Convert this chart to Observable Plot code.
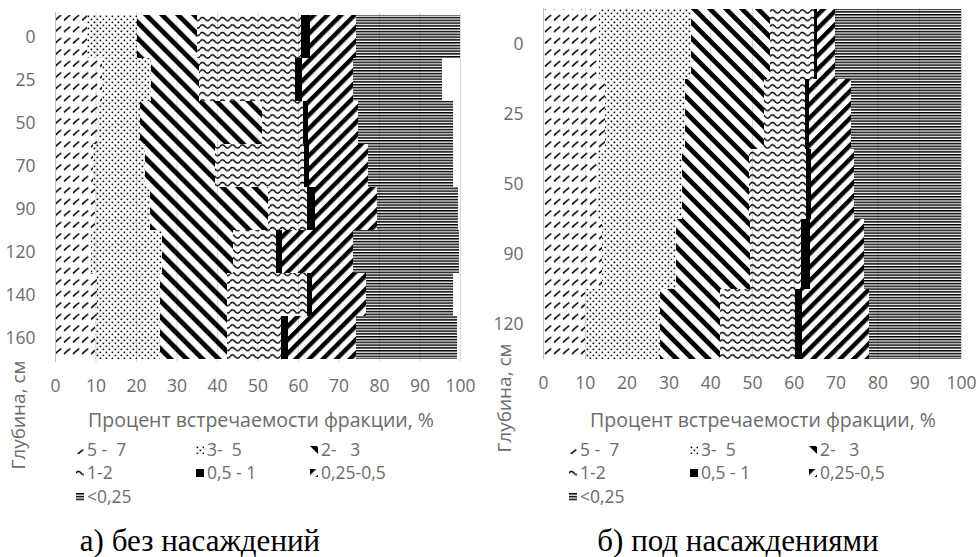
<!DOCTYPE html>
<html><head><meta charset="utf-8">
<script src="https://cdn.jsdelivr.net/npm/d3@7"></script>
<script src="https://cdn.jsdelivr.net/npm/@observablehq/plot@0.6"></script>
<style>
body{margin:0;background:#fff;}
#root{position:relative;width:979px;height:557px;overflow:hidden;font-family:"Open Sans",sans-serif;color:#6b6b6b;}
.t{position:absolute;white-space:pre;line-height:1;}
.panel{position:absolute;top:0;}
.lg{position:absolute;white-space:pre;font-size:17.5px;line-height:1;display:flex;align-items:center;}
.lg svg{margin-right:3px;}
.cap{position:absolute;font-family:"Liberation Serif","Times New Roman",serif;color:#000;font-size:31px;white-space:pre;line-height:1;}
</style></head><body><div id="root"></div>
<script>
// ---- data ----
const fractions = ["5 -  7", "3-  5", "2-   3", "1-2", "0,5 - 1", "0,25-0,5", "<0,25"];
const xTicks = [0, 10, 20, 30, 40, 50, 60, 70, 80, 90, 100];

// panel а) без насаждений
const depthsA = ["0", "25", "50", "70", "90", "120", "140", "160"];
const f57A   = [8.0, 11.5, 10.5, 9.4, 9.9, 9.0, 10.3, 9.9];
const f35A   = [12.3, 12.3, 10.5, 12.8, 13.6, 17.3, 15.6, 16.0];
const f23A   = [14.7, 11.8, 30.0, 17.3, 29.1, 17.7, 16.5, 16.5];
const f12A   = [25.7, 23.7, 10.3, 22.0, 9.5, 10.6, 19.7, 13.4];
const f051A  = [2.3, 1.6, 1.2, 1.2, 2.1, 1.4, 1.3, 1.8];
const f0205A = [11.3, 12.6, 12.3, 14.6, 15.2, 17.5, 13.4, 16.7];
const f025A  = [25.7, 22.0, 23.5, 21.0, 20.2, 26.3, 21.5, 25.0];

// panel б) под насаждениями
const depthsB = ["0", "25", "50", "90", "120"];
const f57B   = [13.3, 14.9, 12.9, 14.1, 10.1];
const f35B   = [22.0, 19.1, 20.4, 17.6, 18.0];
const f23B   = [19.1, 18.8, 15.9, 17.9, 14.3];
const f12B   = [10.4, 9.9, 13.6, 12.2, 18.0];
const f051B  = [0.8, 0.9, 1.2, 2.0, 1.6];
const f0205B = [4.3, 10.0, 10.4, 13.0, 16.0];
const f025B  = [30.1, 26.4, 25.6, 23.2, 22.0];

const fills = ["url(#p57)", "url(#p35)", "url(#p23)", "url(#p12)", "url(#p051)", "url(#p0205)", "url(#p025)"];

// ---- pattern defs ----
const root = document.getElementById("root");
const defsSvg = `<svg width="0" height="0" style="position:absolute;left:0;top:0"><defs>
<pattern id="p57" patternUnits="userSpaceOnUse" width="9" height="11.5">
  <path d="M1.5,8.5 Q3,6.8 6.8,4" fill="none" stroke="#000" stroke-width="1.6" stroke-linecap="round"/>
</pattern>
<pattern id="p35" patternUnits="userSpaceOnUse" width="6" height="6">
  <rect x="0.6" y="0.6" width="1.6" height="1.6" fill="#000"/>
  <rect x="3.6" y="3.6" width="1.6" height="1.6" fill="#000"/>
</pattern>
<pattern id="p23" patternUnits="userSpaceOnUse" width="11.3" height="11.3" patternTransform="rotate(-45)">
  <rect x="0" y="0" width="4.8" height="11.3" fill="#000"/>
</pattern>
<pattern id="p12" patternUnits="userSpaceOnUse" width="10" height="7.5">
  <path d="M0,4 Q2.5,0.6 5,4 T10,4" fill="none" stroke="#000" stroke-width="1.4"/>
</pattern>
<pattern id="p051" patternUnits="userSpaceOnUse" width="10" height="15">
  <rect width="10" height="15" fill="#000"/>
</pattern>
<pattern id="p0205" patternUnits="userSpaceOnUse" width="9.6" height="9.6" patternTransform="rotate(45)">
  <rect x="0" y="0" width="4.4" height="9.6" fill="#000"/>
</pattern>
<pattern id="p025" patternUnits="userSpaceOnUse" width="10" height="2.8">
  <rect x="0" y="0" width="10" height="1.5" fill="#000"/>
</pattern>
</defs></svg>`;
root.insertAdjacentHTML("beforeend", defsSvg);

function tidy(depths, arrays) {
  const rows = [];
  depths.forEach((d, i) => fractions.forEach((f, j) => rows.push({depth: d, fraction: f, value: arrays[j][i]})));
  return rows;
}

function panel(depths, arrays, o) {
  const data = tidy(depths, arrays);
  return Plot.plot({
    width: o.width, height: 400,
    marginLeft: o.ml, marginRight: o.mr, marginTop: o.mt, marginBottom: o.mb,
    style: {fontFamily: "'Open Sans', sans-serif", fontSize: "17.5px", color: "#6b6b6b", background: "transparent", overflow: "visible"},
    x: {domain: [0, 100], ticks: xTicks, tickSize: 0, tickPadding: 17, label: null},
    y: {domain: depths, padding: 0, tickSize: 0, tickPadding: 20, label: null},
    color: {domain: fractions, range: fills},
    marks: [
      Plot.ruleX(xTicks, {stroke: "#d9d9d9", strokeWidth: 1}),
      Plot.barX(data, Plot.stackX({x: "value", y: "depth", fill: "fraction", order: fractions, inset: 0, shapeRendering: "crispEdges"})),
      Plot.ruleX([0], {stroke: "#bfbfbf", strokeWidth: 1})
    ]
  });
}

function place(el, left) {
  el.classList.add("panel");
  el.style.left = left + "px";
  root.appendChild(el);
}

place(panel(depthsA, [f57A, f35A, f23A, f12A, f051A, f0205A, f025A], {width: 490, ml: 55, mr: 30, mt: 12, mb: 38}), 0);
place(panel(depthsB, [f57B, f35B, f23B, f12B, f051B, f0205B, f025B], {width: 489, ml: 53, mr: 18, mt: 8, mb: 41}), 490);

function text(str, x, y, cls, extra) {
  const d = document.createElement("div");
  d.className = cls;
  d.textContent = str;
  d.style.left = x + "px";
  d.style.top = y + "px";
  d.style.transform = extra || "translate(-50%,-50%)";
  root.appendChild(d);
  return d;
}

// axis titles
const xTitle = "Процент встречаемости фракции, %";
const yTitle = "Глубина, см";
text(xTitle, 261, 420, "t").style.fontSize = "19.5px";
text(xTitle, 763, 420, "t").style.fontSize = "19.5px";
text(yTitle, 18, 415, "t", "translate(-50%,-50%) rotate(-90deg)").style.fontSize = "19px";
text(yTitle, 504, 398, "t", "translate(-50%,-50%) rotate(-90deg)").style.fontSize = "19px";

// legends
function legend(cols, rows) {
  fractions.forEach((f, i) => {
    const c = i % 3, r = Math.floor(i / 3);
    const d = document.createElement("div");
    d.className = "lg";
    d.style.left = cols[c] + "px";
    d.style.top = (rows[r] - 9) + "px";
    d.style.height = "18px";
    d.innerHTML = `<svg width="8" height="8"><rect width="8" height="8" fill="${fills[i]}"/></svg>`;
    const s = document.createElement("span");
    s.textContent = f;
    d.appendChild(s);
    root.appendChild(d);
  });
}
legend([76, 196, 310], [450, 473, 497]);
legend([569, 690, 809], [450, 473, 497]);

// captions
text("а) без насаждений", 200, 540, "cap");
text("б) под насаждениями", 738, 540, "cap");
</script></body></html>
